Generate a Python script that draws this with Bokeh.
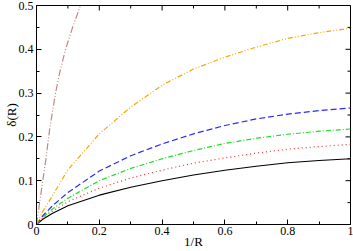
import math
from bokeh.plotting import figure
from bokeh.models import FixedTicker, Range1d
from bokeh.embed import file_html
from bokeh.resources import INLINE

# Data
x_vals = [0, 0.02, 0.05, 0.1, 0.2, 0.3, 0.4, 0.5, 0.6, 0.7, 0.8, 0.9, 1.0]
black_y = [0, 0.012, 0.025, 0.043, 0.067, 0.085, 0.100, 0.113, 0.124, 0.133, 0.141, 0.146, 0.150]
red_y = [0, 0.014, 0.030, 0.052, 0.083, 0.106, 0.124, 0.140, 0.152, 0.163, 0.172, 0.178, 0.183]
green_y = [0, 0.016, 0.035, 0.060, 0.100, 0.128, 0.150, 0.169, 0.185, 0.197, 0.206, 0.213, 0.218]
blue_y = [0, 0.020, 0.042, 0.073, 0.122, 0.157, 0.184, 0.207, 0.226, 0.241, 0.252, 0.260, 0.266]
orange_y = [0, 0.030, 0.065, 0.125, 0.207, 0.268, 0.318, 0.355, 0.382, 0.405, 0.425, 0.438, 0.448]
brown_x = [0, 0.01, 0.02, 0.03, 0.0415, 0.0606, 0.075, 0.0925, 0.115, 0.14]
brown_y = [0, 0.05, 0.10, 0.15, 0.215, 0.30, 0.35, 0.40, 0.45, 0.50]

x_ticks = [0, 0.2, 0.4, 0.6, 0.8, 1.0]
x_minor = [0.1, 0.3, 0.5, 0.7, 0.9]
y_ticks = [0, 0.1, 0.2, 0.3, 0.4, 0.5]
y_minor = [0.05, 0.15, 0.25, 0.35, 0.45]

X_MIN, X_MAX = 0, 1
Y_MIN, Y_MAX = 0, 0.5
FONT = "Liberation Serif"

p = figure(width=353, height=251, output_backend="svg", toolbar_location=None,
           x_range=Range1d(X_MIN, X_MAX), y_range=Range1d(Y_MIN, Y_MAX),
           x_axis_label="1/R", y_axis_label="δ(R)",
           min_border_left=0, min_border_right=3, min_border_top=5, min_border_bottom=0)
p.outline_line_color = "black"
p.outline_line_width = 1
p.xgrid.visible = False
p.ygrid.visible = False

def style_axis(ax, ticks, minor):
    ax.ticker = FixedTicker(ticks=ticks, minor_ticks=minor)
    ax.major_tick_in = 5
    ax.major_tick_out = 0
    ax.minor_tick_in = 3
    ax.minor_tick_out = 0
    ax.axis_line_color = "black"
    ax.major_tick_line_color = "black"
    ax.minor_tick_line_color = "black"
    ax.major_label_text_font = FONT
    ax.major_label_text_font_size = "12px"
    ax.major_label_text_color = "black"
    ax.axis_label_text_font = FONT
    ax.axis_label_text_font_size = "13px"
    ax.axis_label_text_font_style = "normal"
    ax.axis_label_text_color = "black"

style_axis(p.xaxis[0], x_ticks, x_minor)
style_axis(p.yaxis[0], y_ticks, y_minor)
p.xaxis[0].major_label_standoff = 2
p.xaxis[0].axis_label_standoff = -4
p.yaxis[0].major_label_standoff = 3
p.yaxis[0].axis_label_standoff = -3

# mirrored inward ticks on top and right edges (dash markers centred on the edge, clipped by frame)
p.scatter(x_ticks, [Y_MAX] * len(x_ticks), marker="dash", size=10, angle=math.pi / 2, line_color="black", line_width=1)
p.scatter(x_minor, [Y_MAX] * len(x_minor), marker="dash", size=6, angle=math.pi / 2, line_color="black", line_width=1)
p.scatter([X_MAX] * len(y_ticks), y_ticks, marker="dash", size=10, line_color="black", line_width=1)
p.scatter([X_MAX] * len(y_minor), y_minor, marker="dash", size=6, line_color="black", line_width=1)

p.line(x_vals, black_y, line_color="black", line_width=1.1)
p.line(x_vals, red_y, line_color="#ff2a2a", line_width=1.2, line_dash="1 3")
p.line(x_vals, green_y, line_color="#22dd22", line_width=1.2, line_dash="5 2 1 2")
p.line(x_vals, blue_y, line_color="#2a2aff", line_width=1.2, line_dash="6 3")
p.line(x_vals, orange_y, line_color="#ffa500", line_width=1.2, line_dash="5 2 1 2 1 2")
p.line(brown_x, brown_y, line_color="#c08888", line_width=1.2, line_dash="7 2 1 2 1 2")

open("out.html", "w").write(file_html(p, INLINE))
